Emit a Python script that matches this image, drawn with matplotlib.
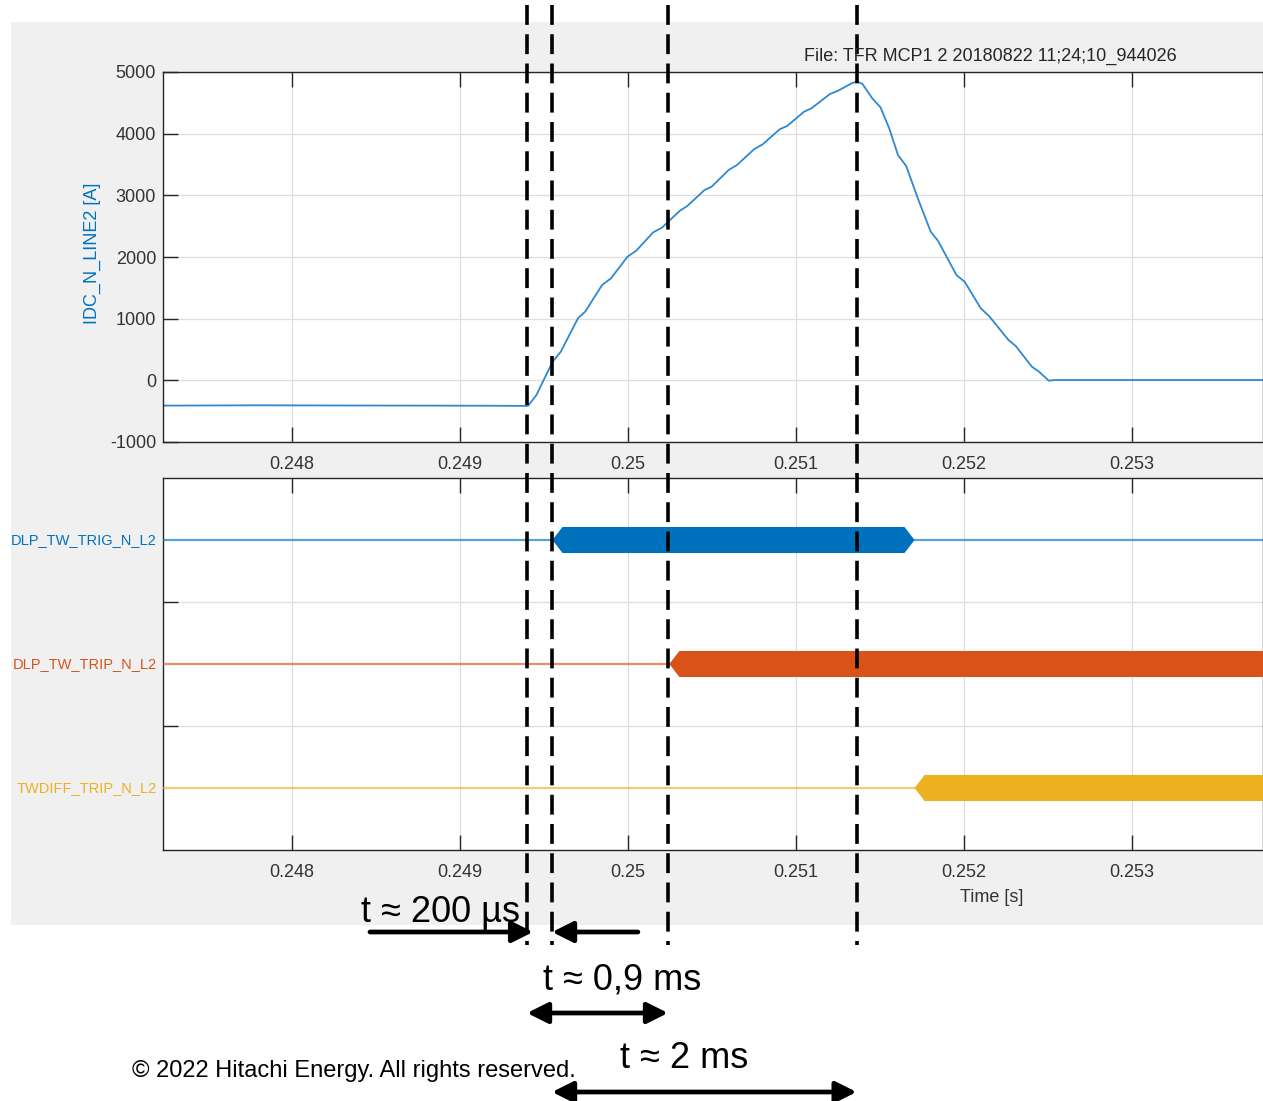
import matplotlib
matplotlib.use("Agg")
import matplotlib.pyplot as plt
import matplotlib.transforms as mtransforms
from matplotlib.patches import Rectangle

plt.rcParams["font.family"] = ["Liberation Sans", "DejaVu Sans"]
plt.rcParams["axes.unicode_minus"] = False

# current IDC_N_LINE2 [A]
time_s = [
    0.24723, 0.24780, 0.24830, 0.24880, 0.24920, 0.249405, 0.249455,
    0.249551, 0.249600, 0.249702, 0.249745, 0.249846, 0.249899, 0.249997,
    0.250049, 0.250150, 0.250202, 0.250309, 0.250353, 0.250455, 0.250498,
    0.250599, 0.250649, 0.250750, 0.250802, 0.250903, 0.250947, 0.251048,
    0.251092, 0.251202, 0.251251, 0.251338, 0.251367, 0.251396, 0.251454,
    0.251503, 0.251555, 0.251607, 0.251656, 0.251729, 0.251802, 0.251845,
    0.251955, 0.252004, 0.252100, 0.252149, 0.252265, 0.252308, 0.252404,
    0.252447, 0.252505, 0.252540, 0.253000, 0.25380,
]
current_a = [
    -410, -405, -408, -410, -412, -415, -238,
    302, 464, 1006, 1113, 1546, 1655, 2005,
    2102, 2400, 2475, 2751, 2827, 3086, 3140,
    3411, 3492, 3746, 3828, 4071, 4124, 4356,
    4411, 4643, 4697, 4826, 4842, 4805, 4573,
    4427, 4087, 3654, 3476, 2924, 2410, 2264,
    1708, 1599, 1168, 1043, 654, 557, 221,
    140, -6, 5, 5, 5,
]

# binary signals: name, on time, off time (None = still on at end)
signal_names = ["DLP_TW_TRIG_N_L2", "DLP_TW_TRIP_N_L2", "TWDIFF_TRIP_N_L2"]
signal_on = [0.24955, 0.250246, 0.251706]
signal_off = [0.251706, None, None]
signal_colors = ["#0072BD", "#D95319", "#EDB120"]
signal_levels = [2.5, 1.5, 0.5]

x_ticks = [0.248, 0.249, 0.250, 0.251, 0.252, 0.253]
x_tick_labels = ["0.248", "0.249", "0.25", "0.251", "0.252", "0.253"]
y_ticks = [-1000, 0, 1000, 2000, 3000, 4000, 5000]

# marker times of the dashed lines
marker_times = [0.249399, 0.249548, 0.250238, 0.251361]

x_lim = (0.247232, 0.25378)
tick_color = "#333333"

W, H = 1263, 1101
fig = plt.figure(figsize=(W / 100, H / 100), dpi=100)
fig.patch.set_facecolor("white")


def fy(py):
    return 1 - py / H


def fx(px):
    return px / W


panel = Rectangle((fx(11), fy(925)), 1.0, fy(22) - fy(925),
                  transform=fig.transFigure, facecolor="#f0f0f0",
                  edgecolor="none", zorder=-5)
fig.patches.append(panel)

ax1 = fig.add_axes([fx(163), fy(442), 1 - fx(163), fy(72) - fy(442)])
ax2 = fig.add_axes([fx(163), fy(850), 1 - fx(163), fy(478) - fy(850)])
ax1.set_zorder(2)


def style_axes(ax):
    ax.set_facecolor("white")
    ax.set_xlim(*x_lim)
    ax.set_xticks(x_ticks)
    ax.grid(True, color="#dedede", linewidth=0.9)
    ax.set_axisbelow(True)
    for side in ["top", "bottom", "left", "right"]:
        ax.spines[side].set_color("#262626")
        ax.spines[side].set_linewidth(1.0)
    ax.tick_params(direction="in", length=11, width=1.0, color="#262626",
                   top=True, labelsize=13, labelcolor=tick_color)
    ax.tick_params(axis="x", pad=10)
    ax.tick_params(axis="y", pad=5)


style_axes(ax1)
ax1.plot(time_s, current_a, color="#2f88d0", linewidth=1.3)
ax1.set_ylim(-1000, 5000)
ax1.set_yticks(y_ticks)
ax1.set_xticklabels(x_tick_labels)
ax1.set_ylabel("IDC_N_LINE2 [A]", color="#0072BD", fontsize=13)
ax1.yaxis.set_label_coords(-62 / 1100, 0.51)

style_axes(ax2)
ax2.set_ylim(0, 3)
ax2.set_yticks([1, 2])
ax2.set_yticklabels([])
ax2.set_xticklabels(x_tick_labels)
fig.text(fx(992), fy(897), "Time [s]", ha="center", va="center",
         color=tick_color, fontsize=13)

ramp = 0.00006
half = 0.105
label_tf = mtransforms.offset_copy(
    mtransforms.blended_transform_factory(ax2.transAxes, ax2.transData),
    fig=fig, x=-6, y=0, units="dots")
for name, t_on, t_off, col, lev in zip(signal_names, signal_on, signal_off,
                                        signal_colors, signal_levels):
    ax2.plot([x_lim[0], t_on], [lev, lev], color=col, alpha=0.65,
             linewidth=1.6, zorder=3)
    if t_off is None:
        end = x_lim[1] + 0.001
        xs = [t_on, t_on + ramp, end, end, t_on + ramp]
        ys = [lev, lev + half, lev + half, lev - half, lev - half]
    else:
        ax2.plot([t_off, x_lim[1]], [lev, lev], color=col, alpha=0.65,
                 linewidth=1.6, zorder=3)
        xs = [t_on, t_on + ramp, t_off - ramp, t_off, t_off - ramp, t_on + ramp]
        ys = [lev, lev + half, lev + half, lev, lev - half, lev - half]
    ax2.fill(xs, ys, color=col, zorder=4, linewidth=0)
    ax2.text(0, lev, name, transform=label_tf, ha="right", va="center",
             color=col, fontsize=10.5)

fig.text(fx(990), fy(56), "File: TFR MCP1 2 20180822 11;24;10_944026",
         ha="center", va="center", fontsize=13, color="#262626")

# dashed marker lines across both panels
mark_tf = mtransforms.blended_transform_factory(ax1.transData, fig.transFigure)
for t in marker_times:
    ax1.plot([t, t], [fy(5), fy(945)], transform=mark_tf, color="black",
             linewidth=2.6, linestyle=(0, (5.5, 2.6)), clip_on=False, zorder=10)


def arrow(t_from, t_to, py, style):
    ax1.annotate("", xy=(t_to, fy(py)), xytext=(t_from, fy(py)),
                 xycoords=mark_tf, textcoords=mark_tf,
                 arrowprops=dict(arrowstyle=style, color="black", lw=3.4,
                                 mutation_scale=18, shrinkA=0, shrinkB=0),
                 annotation_clip=False)


head = ",head_length=0.7,head_width=0.35"
arrow(0.248464, 0.249435, 932, "-|>" + head)
arrow(0.250059, 0.249548, 932, "-|>" + head)
arrow(0.249399, 0.250238, 1013, "<|-|>" + head)
arrow(0.249548, 0.251361, 1092, "<|-|>" + head)

fig.text(fx(361), fy(922), "t \u2248 200 \u00b5s", ha="left", va="baseline",
         fontsize=26, color="black")
fig.text(fx(543), fy(990), "t \u2248 0,9 ms", ha="left", va="baseline",
         fontsize=26, color="black")
fig.text(fx(620), fy(1068), "t \u2248 2 ms", ha="left", va="baseline",
         fontsize=26, color="black")
fig.text(fx(132), fy(1077), "\u00a9 2022 Hitachi Energy. All rights reserved.",
         ha="left", va="baseline", fontsize=17, color="black")

fig.savefig("out.png", dpi=100)
